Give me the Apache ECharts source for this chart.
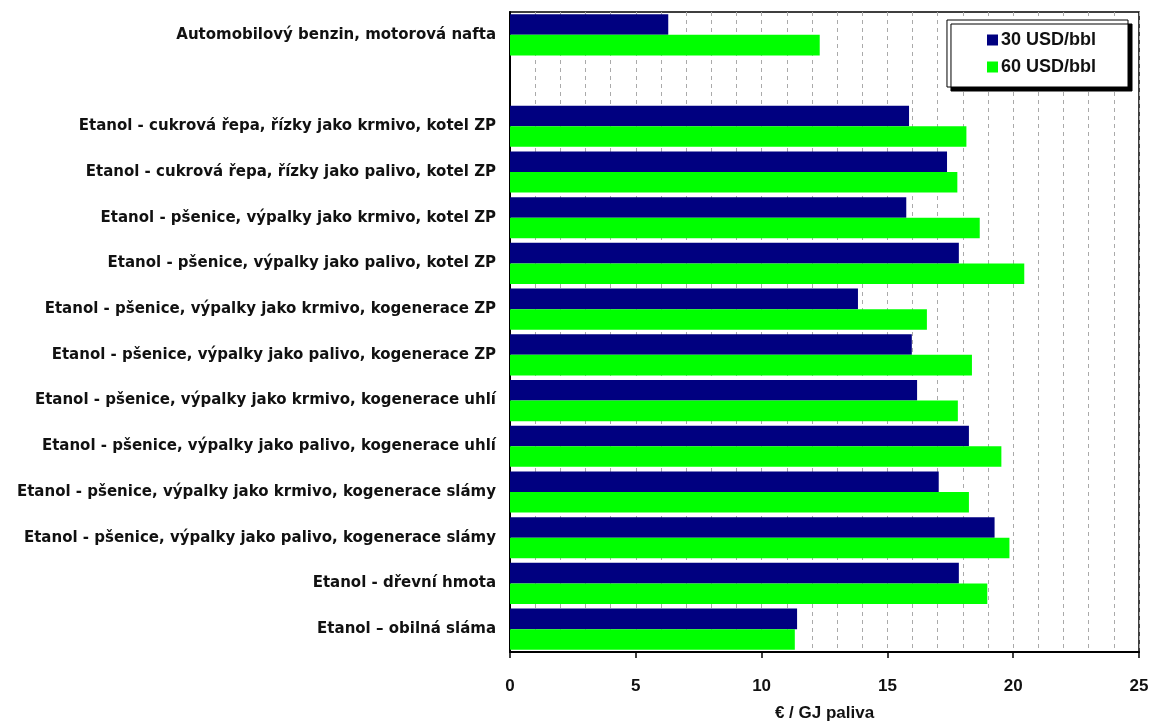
<!DOCTYPE html>
<html>
<head>
<meta charset="utf-8">
<script src="https://cdn.jsdelivr.net/npm/echarts@6/dist/echarts.min.js"></script>
<style>
  html, body { margin: 0; padding: 0; background: #fff; }
  #chart { width: 1151px; height: 722px; }
</style>
</head>
<body>
<div id="chart"></div>
<script>
// kategorie (shora dolů), druhá je prázdná mezera
var categories = [
    'Automobilový benzin, motorová nafta',
    '',
    'Etanol - cukrová řepa, řízky jako krmivo, kotel ZP',
    'Etanol - cukrová řepa, řízky jako palivo, kotel ZP',
    'Etanol - pšenice, výpalky jako krmivo, kotel ZP',
    'Etanol - pšenice, výpalky jako palivo, kotel ZP',
    'Etanol - pšenice, výpalky jako krmivo, kogenerace ZP',
    'Etanol - pšenice, výpalky jako palivo, kogenerace ZP',
    'Etanol - pšenice, výpalky jako krmivo, kogenerace uhlí',
    'Etanol - pšenice, výpalky jako palivo, kogenerace uhlí',
    'Etanol - pšenice, výpalky jako krmivo, kogenerace slámy',
    'Etanol - pšenice, výpalky jako palivo, kogenerace slámy',
    'Etanol - dřevní hmota',
    'Etanol – obilná sláma'
];
var price30 = [6.29, null, 15.86, 17.37, 15.75, 17.84, 13.83, 15.97, 16.18, 18.24, 17.04, 19.26, 17.84, 11.41];
var price60 = [12.31, null, 18.14, 17.78, 18.67, 20.44, 16.57, 18.36, 17.8, 19.53, 18.24, 19.85, 18.97, 11.32];
var seriesNames = ['30 USD/bbl', '60 USD/bbl'];
var xTicks = [0, 5, 10, 15, 20, 25];

var chart = echarts.init(document.getElementById('chart'));
var option = {
    animation: false,
    backgroundColor: '#fff',
    textStyle: { fontFamily: 'Liberation Sans, Arial, sans-serif' },
    grid: {
        left: 510,
        right: 12,
        top: 12,
        bottom: 70,
        outerBoundsMode: 'none',
        show: true,
        borderColor: '#000',
        borderWidth: 1.5,
        backgroundColor: 'transparent'
    },
    legend: {
        data: seriesNames,
        orient: 'vertical',
        right: 23,
        top: 20,
        itemWidth: 11,
        itemHeight: 11,
        itemGap: 9,
        icon: 'rect',
        padding: [11, 32, 11, 40],
        backgroundColor: '#fff',
        borderColor: '#000',
        borderWidth: 1,
        shadowColor: '#000',
        shadowOffsetX: 4,
        shadowOffsetY: 4,
        shadowBlur: 0,
        textStyle: {
            fontFamily: 'Liberation Sans, Arial, sans-serif',
            fontWeight: 'bold',
            fontSize: 18,
            color: '#111',
            padding: [0, 0, 0, -2]
        }
    },
    xAxis: {
        type: 'value',
        min: 0,
        max: 25,
        interval: 5,
        name: '€ / GJ paliva',
        nameLocation: 'middle',
        nameGap: 53,
        nameTextStyle: {
            fontFamily: 'Liberation Sans, Arial, sans-serif',
            fontWeight: 'bold',
            fontSize: 17,
            color: '#111'
        },
        axisLine: { show: true, lineStyle: { color: '#000', width: 2 } },
        axisTick: { show: true, inside: false, length: 6, lineStyle: { color: '#000', width: 1.5 } },
        axisLabel: {
            margin: 26,
            fontFamily: 'Liberation Sans, Arial, sans-serif',
            fontWeight: 'bold',
            fontSize: 17,
            color: '#111',
            formatter: function (v) { return xTicks.indexOf(v) >= 0 ? String(v) : ''; }
        },
        splitLine: { show: true, lineStyle: { color: '#aaa', type: [4, 4], width: 1 } },
        minorTick: { show: false, splitNumber: 5 },
        minorSplitLine: { show: true, lineStyle: { color: '#aaa', type: [4, 4], width: 1 } }
    },
    yAxis: {
        type: 'category',
        data: categories,
        inverse: true,
        axisLine: { show: true, lineStyle: { color: '#000', width: 2 } },
        axisTick: { show: false },
        splitLine: { show: false },
        axisLabel: {
            margin: 14,
            fontFamily: 'DejaVu Sans, sans-serif',
            fontWeight: 'bold',
            fontSize: 15,
            color: '#111'
        }
    },
    series: [{
        name: seriesNames[0],
        type: 'bar',
        data: price30,
        barGap: '0%',
        barCategoryGap: '10%',
        itemStyle: { color: '#000080' }
    }, {
        name: seriesNames[1],
        type: 'bar',
        data: price60,
        barGap: '0%',
        barCategoryGap: '10%',
        itemStyle: { color: '#00ff00' }
    }]
};
chart.setOption(option);
</script>
</body>
</html>
